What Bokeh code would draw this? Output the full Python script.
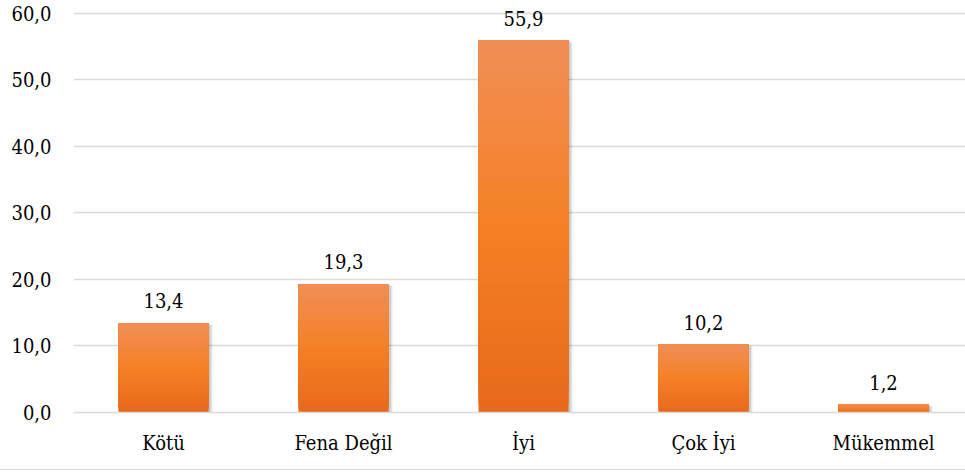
from bokeh.plotting import figure
from bokeh.models import Range1d, FixedTicker, ColumnDataSource
from bokeh.core.properties import value
from bokeh.embed import file_html
from bokeh.resources import INLINE

categories = ["Kötü", "Fena Değil", "İyi", "Çok İyi", "Mükemmel"]
values = [13.4, 19.3, 55.9, 10.2, 1.2]
y_ticks = [0, 10, 20, 30, 40, 50, 60]
y_tick_labels = ["0,0", "10,0", "20,0", "30,0", "40,0", "50,0", "60,0"]

FONT = "DejaVu Serif Condensed"
FSIZE = "20px"

W, H = 965, 470
p = figure(width=W, height=H, output_backend="svg", toolbar_location=None,
           x_range=Range1d(-0.5, -0.5 + 892 / 180), y_range=Range1d(0, 60.45),
           min_border_left=73, min_border_right=0, min_border_top=10, min_border_bottom=58)
p.styles = {"border-bottom": "1px solid #d9d9d9"}
p.outline_line_color = None
p.background_fill_color = "white"

xs = list(range(len(categories)))

# soft shadow
p.quad(left=[x - 0.25 + 0.012 for x in xs], right=[x + 0.25 + 0.022 for x in xs],
       bottom=0, top=[v - 0.25 for v in values], fill_color="#000000", fill_alpha=0.10,
       line_color=None)
p.quad(left=[x - 0.25 + 0.006 for x in xs], right=[x + 0.25 + 0.012 for x in xs],
       bottom=0, top=[v - 0.12 for v in values], fill_color="#000000", fill_alpha=0.12,
       line_color=None)

# gradient bars
c_bot = (0xE8, 0x69, 0x1C)
c_mid = (0xF5, 0x80, 0x25)
c_top = (0xF0, 0x8E, 0x55)

def lerp(a, b, t):
    return tuple(int(round(a[i] + (b[i] - a[i]) * t)) for i in range(3))

N = 40
for i in range(N):
    t = i / (N - 1)
    if t < 0.5:
        c = lerp(c_bot, c_mid, t / 0.5)
    else:
        c = lerp(c_mid, c_top, (t - 0.5) / 0.5)
    col = "#%02x%02x%02x" % c
    p.quad(left=[x - 0.25 for x in xs], right=[x + 0.25 for x in xs],
           bottom=[v * i / N for v in values], top=values,
           fill_color=col, line_color=None)

src = ColumnDataSource(dict(x=xs, y=values, t=[("%.1f" % v).replace(".", ",") for v in values]))
p.text(x="x", y="y", text="t", source=src, text_align="center", text_baseline="bottom",
       y_offset=-15, text_font=value(FONT), text_font_size=FSIZE, text_color="#000000")

p.xaxis.ticker = FixedTicker(ticks=xs)
p.xaxis.major_label_overrides = {i: c for i, c in enumerate(categories)}
p.xaxis.major_label_text_font = FONT
p.xaxis.major_label_text_font_size = FSIZE
p.xaxis.major_label_text_color = "#000000"
p.xaxis.major_tick_line_color = None
p.xaxis.minor_tick_line_color = None
p.xaxis.axis_line_color = "#d9d9d9"
p.xaxis.axis_line_width = 1.5
p.xaxis.major_label_standoff = 12

p.yaxis.ticker = FixedTicker(ticks=y_ticks)
p.yaxis.major_label_overrides = {t: l for t, l in zip(y_ticks, y_tick_labels)}
p.yaxis.major_label_text_font = FONT
p.yaxis.major_label_text_font_size = FSIZE
p.yaxis.major_label_text_color = "#000000"
p.yaxis.major_tick_line_color = None
p.yaxis.minor_tick_line_color = None
p.yaxis.axis_line_color = None
p.yaxis.major_label_standoff = 16

p.xgrid.grid_line_color = None
p.ygrid.grid_line_color = "#d9d9d9"
p.ygrid.grid_line_width = 1.5

open("out.html", "w").write(file_html(p, INLINE))
